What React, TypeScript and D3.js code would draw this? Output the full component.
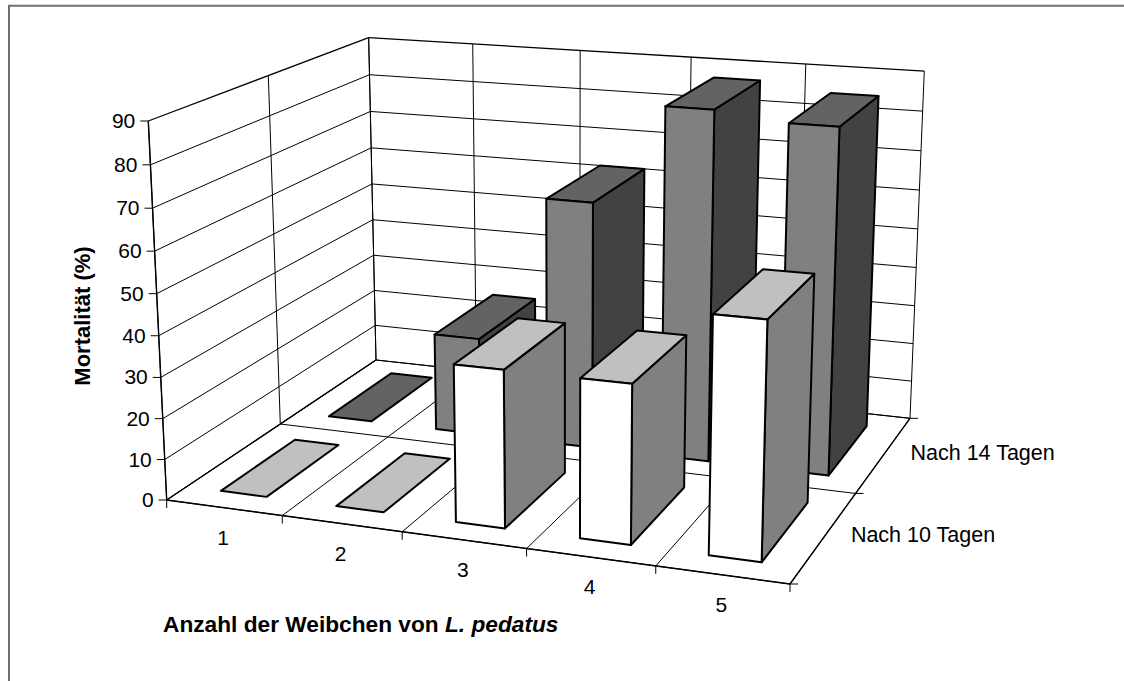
import React from "react";
import * as d3 from "d3";

const categories = ["1", "2", "3", "4", "5"];
const seriesNames = ["Nach 10 Tagen", "Nach 14 Tagen"];
const nach10: number[] = [0, 0, 37.5, 37.5, 55];
const nach14: number[] = [0, 25, 62.3, 87, 85];
const yTicks = d3.range(0, 100, 10);
type P = [number, number];
type V = [number, number, number];
const FRONT_LEFT: P = [166.7, 500], FRONT_RIGHT: P = [790, 584], BACK_RIGHT: P = [910, 418.3], BACK_LEFT: P = [376, 360];
const TOP_FRONT_LEFT: P = [148.3, 121], TOP_BACK_LEFT: P = [367.7, 37.7];

// projective camera built from the floor corners and the wall's top corners
function makeCamera() {
  const [x0, y0] = FRONT_LEFT, [x1, y1] = FRONT_RIGHT, [x2, y2] = BACK_RIGHT, [x3, y3] = BACK_LEFT;
  const dx1 = x1 - x2, dx2 = x3 - x2, sx = x0 - x1 + x2 - x3;
  const dy1 = y1 - y2, dy2 = y3 - y2, sy = y0 - y1 + y2 - y3;
  const det = dx1 * dy2 - dx2 * dy1;
  const g = (sx * dy2 - dx2 * sy) / det;
  const h = (dx1 * sy - sx * dy1) / det;
  const a: V = [x1 - x0 + g * x1, y1 - y0 + g * y1, g];
  const b: V = [x3 - x0 + h * x3, y3 - y0 + h * y3, h];
  const c: V = [x0, y0, 1];
  const [yx, yy] = TOP_FRONT_LEFT;
  const ty = TOP_BACK_LEFT[1];
  const s = (ty * b[2] - b[1]) / (yy - ty);
  const d: V = [s * yx - c[0], s * yy - c[1], s - c[2]];
  return (u: number, w: number, v: number): P => {
    const X = a[0] * u + b[0] * w + c[0] + d[0] * v;
    const Y = a[1] * u + b[1] * w + c[1] + d[1] * v;
    const W = a[2] * u + b[2] * w + c[2] + d[2] * v;
    return [X / W, Y / W];
  };
}

const cam = makeCamera();
const xScale = d3.scaleLinear().domain([0, categories.length]).range([0, 1]);
const zScale = d3.scaleLinear().domain([0, seriesNames.length]).range([0, 1]);
const yScale = d3.scaleLinear().domain([0, 90]).range([0, 1]);
const pt = (x: number, z: number, y: number) => cam(xScale(x), zScale(z), yScale(y));
const path = (ps: P[]) => d3.line()(ps)! + "Z";

const BAR_X = [0.3, 0.7];
const BAR_Z = [1 / 6, 5 / 6];
const FONT = "'Liberation Sans', Arial, sans-serif";
const series = [
  { values: nach10, z: 0, front: "#ffffff", top: "#c0c0c0", side: "#808080" },
  { values: nach14, z: 1, front: "#808080", top: "#636363", side: "#424242" },
];

function Bar({ i, z, v, c }: { i: number; z: number; v: number; c: (typeof series)[number] }) {
  const x0 = i + BAR_X[0], x1 = i + BAR_X[1], z0 = z + BAR_Z[0], z1 = z + BAR_Z[1];
  const common = { stroke: "#000", strokeWidth: 2, strokeLinejoin: "round" as const };
  if (v === 0) {
    return <path d={path([pt(x0, z0, 0), pt(x1, z0, 0), pt(x1, z1, 0), pt(x0, z1, 0)])} fill={c.top} {...common} />;
  }
  return (
    <g>
      <path d={path([pt(x1, z0, 0), pt(x1, z1, 0), pt(x1, z1, v), pt(x1, z0, v)])} fill={c.side} {...common} />
      <path d={path([pt(x0, z0, v), pt(x1, z0, v), pt(x1, z1, v), pt(x0, z1, v)])} fill={c.top} {...common} />
      <path d={path([pt(x0, z0, 0), pt(x1, z0, 0), pt(x1, z0, v), pt(x0, z0, v)])} fill={c.front} {...common} />
    </g>
  );
}

const Line = ({ a, b, w = 1 }: { a: P; b: P; w?: number }) => (
  <line x1={a[0]} y1={a[1]} x2={b[0]} y2={b[1]} stroke="#000" strokeWidth={w} />
);

export default function App() {
  const n = categories.length;
  const ZN = seriesNames.length;
  return (
    <svg width={1124} height={681} style={{ position: "absolute", left: 0, top: 0, background: "#fff" }} fontFamily={FONT}>
      <path d="M9,681V5.7H1124" fill="none" stroke="#707070" strokeWidth={2} />
      {/* walls */}
      {yTicks.map((t) => (
        <g key={t}>
          <Line a={pt(0, 0, t)} b={pt(0, ZN, t)} w={t === 90 ? 1.3 : 1} />
          <Line a={pt(0, ZN, t)} b={pt(n, ZN, t)} w={t === 90 ? 1.3 : 1} />
        </g>
      ))}
      {d3.range(0, n + 1).map((i) => (
        <Line key={i} a={pt(i, ZN, 0)} b={pt(i, ZN, 90)} />
      ))}
      {d3.range(0, ZN + 1).map((k) => (
        <Line key={k} a={pt(0, k, 0)} b={pt(0, k, 90)} />
      ))}
      {/* floor */}
      {d3.range(0, n + 1).map((i) => (
        <Line key={i} a={pt(i, 0, 0)} b={pt(i, ZN, 0)} />
      ))}
      {d3.range(0, ZN + 1).map((k) => (
        <Line key={k} a={pt(0, k, 0)} b={pt(n, k, 0)} />
      ))}
      <Line a={pt(0, 0, 0)} b={pt(n, 0, 0)} w={1.4} />
      <Line a={pt(n, 0, 0)} b={pt(n, ZN, 0)} w={1.4} />
      <Line a={pt(0, 0, 0)} b={pt(0, 0, 90)} w={1.4} />
      <Line a={pt(0, 0, 0)} b={pt(0, ZN, 0)} w={1.4} />
      {/* ticks */}
      {yTicks.map((t) => {
        const p = pt(0, 0, t);
        return (
          <g key={t}>
            <Line a={p} b={[p[0] - 8, p[1]]} />
            <text x={p[0] - 13} y={p[1] + 7} textAnchor="end" fontSize={21} fill="#000">{t}</text>
          </g>
        );
      })}
      {d3.range(0, n + 1).map((i) => {
        const p = pt(i, 0, 0);
        return <Line key={i} a={p} b={[p[0], p[1] + 8]} />;
      })}
      {d3.range(0, ZN + 1).map((k) => {
        const p = pt(n, k, 0);
        return <Line key={k} a={p} b={[p[0] + 8, p[1]]} />;
      })}
      {categories.map((c, i) => {
        const p = pt(i + 0.5, 0, 0);
        return <text key={c} x={p[0] - 1} y={p[1] + 37} textAnchor="middle" fontSize={21} fill="#000">{c}</text>;
      })}
      {seriesNames.map((s, k) => {
        const p = pt(n, k + 0.5, 0);
        return <text key={s} x={p[0] + 26.5} y={p[1] + 6} fontSize={21.5} fill="#000">{s}</text>;
      })}
      {/* bars back to front */}
      {[...series].reverse().map((c) => (
        <g key={c.z}>
          {c.values.map((v, i) => (
            <Bar key={i} i={i} z={c.z} v={v} c={c} />
          ))}
        </g>
      ))}
      <text x={163} y={631.5} fontSize={22.7} fontWeight="bold" fill="#000">
        Anzahl der Weibchen von <tspan fontStyle="italic">L. pedatus</tspan>
      </text>
      <text transform="translate(90,316) rotate(-90)" textAnchor="middle" fontSize={22} fontWeight="bold" fill="#000">
        Mortalität (%)
      </text>
    </svg>
  );
}
